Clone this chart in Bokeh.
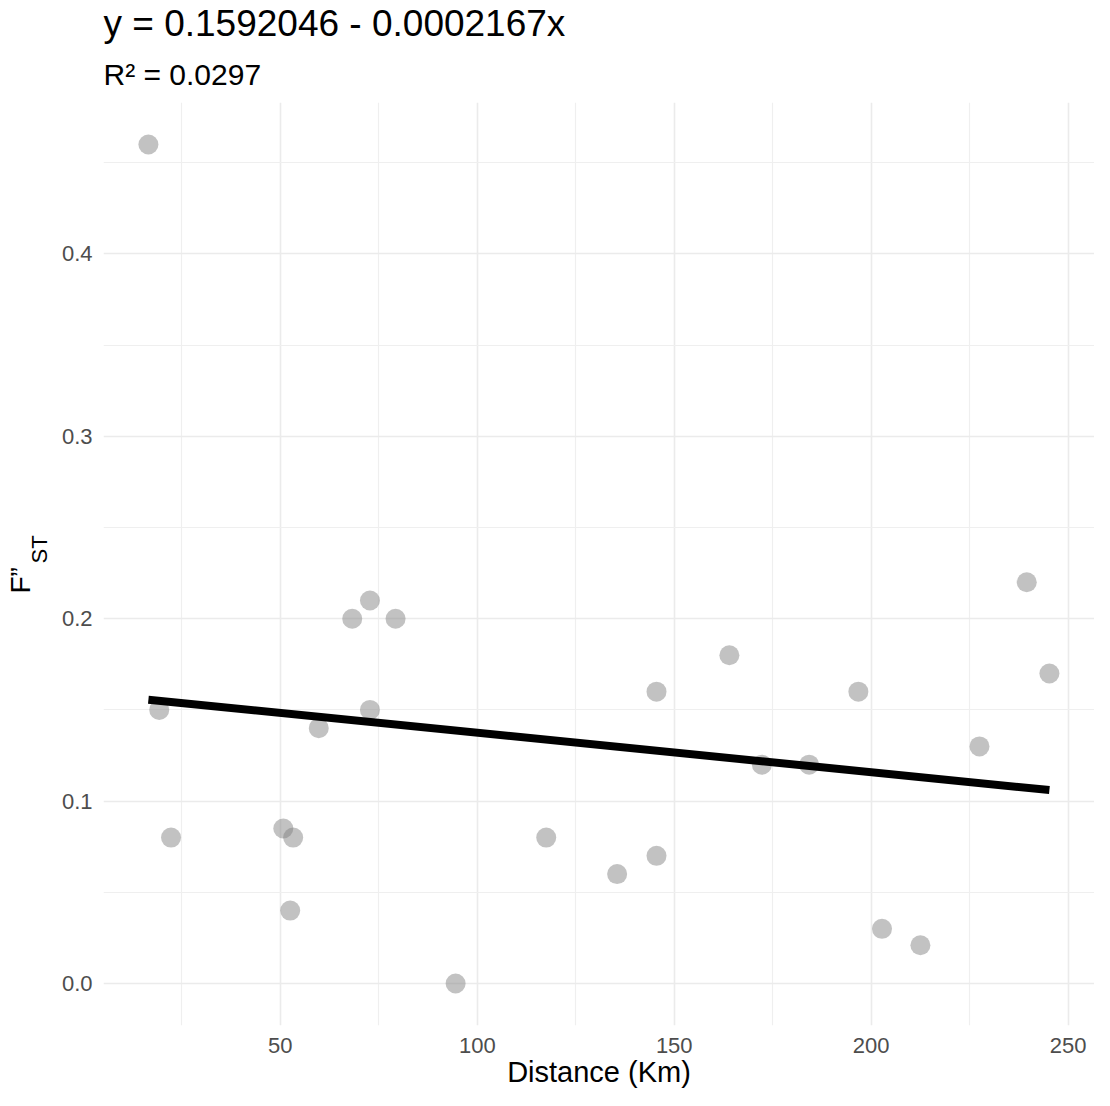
from bokeh.plotting import figure
from bokeh.models import Range1d, FixedTicker, Title
from bokeh.embed import file_html
from bokeh.resources import INLINE

# ---- data ----
distance_km = [16.5, 19.25, 22.25, 50.75, 53.25, 52.5, 59.75, 68.25, 72.75, 72.75,
               79.25, 94.5, 117.5, 135.5, 145.5, 145.5, 164.0, 172.25, 184.25,
               196.75, 202.75, 212.5, 227.5, 239.5, 245.25]
fst = [0.46, 0.15, 0.08, 0.085, 0.08, 0.04, 0.14, 0.20, 0.21, 0.15,
       0.20, 0.0, 0.08, 0.06, 0.07, 0.16, 0.18, 0.12, 0.12,
       0.16, 0.03, 0.021, 0.13, 0.22, 0.17]
intercept = 0.1592046
slope = -0.0002167
r_squared = 0.0297
x_ticks = [50, 100, 150, 200, 250]
x_minor = [25, 75, 125, 175, 225]
y_ticks = [0.0, 0.1, 0.2, 0.3, 0.4]
y_minor = [0.05, 0.15, 0.25, 0.35, 0.45]
x_title = "Distance (Km)"
y_title_main = "F\u201d"
y_title_sub = "ST"

FONT = "Liberation Sans"
X_START, X_END = 5.1, 256.7

p = figure(width=1094, height=1090, output_backend="svg", toolbar_location=None,
           x_range=Range1d(X_START, X_END), y_range=Range1d(-0.023, 0.483),
           min_border_left=103, min_border_right=0, min_border_top=100, min_border_bottom=60)
p.outline_line_color = None
p.background_fill_color = "white"
p.border_fill_color = "white"

# titles: subtitle first (closest to plot), then main title
sub = Title(text=f"R\u00b2 = {r_squared}", text_font=FONT, text_font_size="30px",
            text_font_style="normal", text_color="black", align="left", offset=0,
            standoff=24)
p.add_layout(sub, "above")
main = Title(text=f"y = {intercept} - {abs(slope):.7f}x", text_font=FONT, text_font_size="37px",
             text_font_style="normal", text_color="black", align="left", offset=0,
             standoff=0)
p.add_layout(main, "above")
p.title.visible = False

# axes
p.xaxis.ticker = FixedTicker(ticks=x_ticks, minor_ticks=x_minor)
p.yaxis.ticker = FixedTicker(ticks=y_ticks, minor_ticks=y_minor)
p.yaxis.major_label_overrides = {t: f"{t:.1f}" for t in y_ticks}
p.xaxis.axis_label = x_title
for ax in (p.xaxis, p.yaxis):
    ax.axis_line_color = None
    ax.major_tick_line_color = None
    ax.minor_tick_line_color = None
    ax.major_label_text_font = FONT
    ax.major_label_text_font_size = "22px"
    ax.major_label_text_color = "#4D4D4D"
    ax.axis_label_text_font = FONT
    ax.axis_label_text_font_size = "29px"
    ax.axis_label_text_font_style = "normal"
    ax.axis_label_text_color = "black"
p.xaxis.major_label_standoff = 6
p.yaxis.major_label_standoff = 5
p.xaxis.axis_label_standoff = 0

# y-axis title F"ST: subscript part closest to the axis, main part outside it
sub_y = Title(text=y_title_sub, text_font=FONT, text_font_size="22px",
              text_font_style="normal", text_color="black", align="left",
              offset=462, standoff=14)
p.add_layout(sub_y, "left")
main_y = Title(text=y_title_main, text_font=FONT, text_font_size="28px",
               text_font_style="normal", text_color="black", align="left",
               offset=432, standoff=-36)
p.add_layout(main_y, "left")

for g in (p.xgrid, p.ygrid):
    g.grid_line_color = "#EBEBEB"
    g.grid_line_width = 1.6
    g.minor_grid_line_color = "#EFEFEF"
    g.minor_grid_line_width = 1.2

# points
p.scatter(distance_km, fst, size=20, fill_color="#808080", fill_alpha=0.48, line_color=None)

# regression line
x0, x1 = min(distance_km), max(distance_km)
p.line([x0, x1], [intercept + slope * x0, intercept + slope * x1],
       line_color="black", line_width=8)

open("out.html", "w").write(file_html(p, INLINE))
